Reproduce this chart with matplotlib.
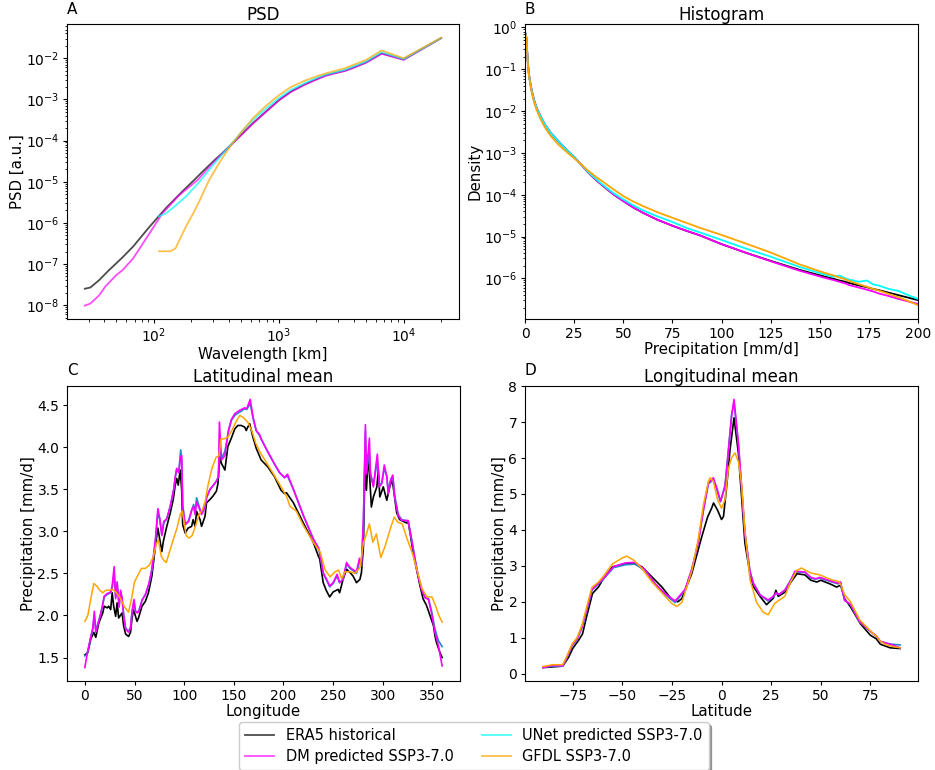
import numpy as np
import matplotlib
matplotlib.use("Agg")
import matplotlib.pyplot as plt

# ---------------- Panel A: PSD (wavelength km, log10 PSD) ----------------
psd_era5_wl = [28, 31, 36.5, 43, 53, 56, 68, 92, 125, 170, 210, 250, 315, 355, 425, 500, 625, 800,
               1000, 1250, 1600, 2000, 2360, 2800, 3400, 4000, 5000, 5714, 6667, 10000, 20000]
psd_era5_log = [-7.60, -7.57, -7.39, -7.17, -6.91, -6.84, -6.58, -6.10, -5.64, -5.23, -4.96, -4.73, -4.44,
                -4.30, -4.07, -3.86, -3.57, -3.28, -3.02, -2.81, -2.64, -2.51, -2.42, -2.36, -2.30, -2.22,
                -2.10, -2.00, -1.88, -2.03, -1.51]
psd_dm_wl = [28, 31, 36.5, 41, 50, 56, 68, 92, 117, 159, 224, 282, 355, 425, 500, 625, 800,
             1000, 1250, 1600, 2000, 2360, 2800, 3400, 4000, 5000, 5714, 6667, 10000, 20000]
psd_dm_log = [-8.01, -7.96, -7.76, -7.54, -7.27, -7.15, -6.87, -6.26, -5.77, -5.33, -4.96, -4.62, -4.31,
              -4.08, -3.87, -3.58, -3.29, -3.03, -2.82, -2.65, -2.52, -2.43, -2.37, -2.31, -2.23, -2.11,
              -2.01, -1.89, -2.04, -1.51]
psd_unet_wl = [110, 125, 140, 179, 229, 293, 374, 425, 500, 625, 800, 1000, 1250, 1600, 2000, 2360,
               3400, 5000, 6667, 10000, 20000]
psd_unet_log = [-5.84, -5.77, -5.65, -5.37, -5.02, -4.62, -4.25, -4.06, -3.80, -3.49, -3.21, -2.97,
                -2.77, -2.61, -2.48, -2.40, -2.28, -2.08, -1.85, -2.02, -1.51]
psd_gfdl_wl = [110, 121, 136, 149, 180, 210, 230, 277, 330, 380, 425, 500, 625, 800, 1000, 1250, 1600,
               2000, 2360, 3400, 5000, 6667, 10000, 20000]
psd_gfdl_log = [-6.69, -6.69, -6.69, -6.62, -6.10, -5.73, -5.49, -4.96, -4.57, -4.28, -4.07, -3.80,
                -3.45, -3.14, -2.90, -2.70, -2.55, -2.44, -2.37, -2.24, -2.04, -1.81, -2.00, -1.50]

# ---------------- Panel B: Histogram (mm/d, log10 density) ----------------
hist_x = [0.3, 0.7, 1.0, 1.5, 2.0, 2.7, 3.5, 4.5, 5.8, 7.5, 10, 13, 16.8, 21, 25.3, 29, 32, 36, 40, 45,
          50, 55, 60, 67, 75, 82, 89, 100, 112, 125, 140, 152, 157, 160, 163, 165, 170, 174, 177, 180,
          185, 190, 195, 200]
hist_era5_log = [-0.15, -0.25, -0.50, -0.88, -1.12, -1.33, -1.53, -1.72, -1.91, -2.09, -2.31, -2.52,
                 -2.71, -2.92, -3.11, -3.30, -3.46, -3.64, -3.80, -3.99, -4.15, -4.30, -4.43, -4.59,
                 -4.74, -4.86, -4.97, -5.18, -5.38, -5.58, -5.80, -5.95, -6.01, -6.05, -6.08, -6.11,
                 -6.17, -6.21, -6.25, -6.28, -6.34, -6.40, -6.46, -6.52]
hist_dm_log = [-0.15, -0.25, -0.50, -0.88, -1.12, -1.33, -1.53, -1.72, -1.91, -2.09, -2.31, -2.52,
               -2.71, -2.92, -3.11, -3.30, -3.46, -3.64, -3.80, -3.99, -4.15, -4.30, -4.43, -4.59,
               -4.74, -4.86, -4.97, -5.18, -5.38, -5.59, -5.82, -5.98, -6.04, -6.08, -6.12, -6.16,
               -6.22, -6.27, -6.31, -6.36, -6.42, -6.49, -6.55, -6.61]
hist_unet_log = [-0.15, -0.25, -0.50, -0.88, -1.12, -1.33, -1.53, -1.72, -1.91, -2.09, -2.31, -2.52,
                 -2.71, -2.92, -3.11, -3.30, -3.45, -3.62, -3.78, -3.96, -4.11, -4.25, -4.37, -4.51,
                 -4.65, -4.79, -4.90, -5.08, -5.28, -5.48, -5.73, -5.90, -5.96, -5.93, -6.00, -6.03,
                 -6.08, -6.05, -6.14, -6.17, -6.25, -6.30, -6.40, -6.49]
hist_gfdl_log = [-0.17, -0.27, -0.52, -0.90, -1.14, -1.36, -1.57, -1.77, -1.96, -2.15, -2.38, -2.59,
                 -2.79, -2.97, -3.14, -3.29, -3.42, -3.57, -3.70, -3.87, -4.03, -4.16, -4.27, -4.41,
                 -4.55, -4.67, -4.79, -4.96, -5.16, -5.38, -5.67, -5.86, -5.93, -5.98, -6.02, -6.06,
                 -6.14, -6.20, -6.25, -6.29, -6.37, -6.45, -6.54, -6.64]

# ---------------- Panel C: Latitudinal mean vs longitude ----------------
lon_era5 = [0, 3, 6, 9, 11, 14, 18, 19.5, 22.5, 24, 26, 27.5, 29, 31, 32.5, 34, 37.5, 39, 41, 44, 46,
            47.5, 49, 51, 52.5, 54, 57.5, 61, 64, 67.5, 71, 73.5, 75.5, 77.5, 79, 82.5, 86, 89, 91, 92.5,
            94, 96, 97.5, 98.5, 101, 104, 107.5, 109, 111, 112.5, 116, 117.5, 121, 122.5, 126, 129,
            132.5, 134, 136, 137.5, 141, 144, 147.5, 151, 154, 157.5, 161, 162.5, 164, 166, 169, 172.5,
            177.5, 184, 191, 197.5, 201, 203, 210, 220, 230, 235, 236.5, 240, 243, 246.5, 250, 255,
            256.5, 260, 263.5, 267, 270, 273.5, 277, 278.5, 280.5, 282, 283.5, 285.5, 287, 288.5, 290.5,
            294, 295.5, 297, 300.5, 304, 307, 309, 310.5, 314, 317, 320.5, 324, 325.5, 327.5, 330.5, 334,
            337.5, 340.5, 344, 347.5, 351, 352.5, 354, 357.5, 359.75]
lat_mean_era5 = [1.53, 1.56, 1.72, 1.80, 1.74, 1.91, 2.03, 2.11, 2.09, 2.11, 2.07, 2.27, 2.11, 1.99,
                 2.15, 1.97, 2.03, 1.88, 1.78, 1.75, 1.80, 1.97, 2.07, 1.99, 1.93, 1.97, 2.11, 2.17, 2.27,
                 2.47, 2.82, 3.04, 2.90, 2.76, 2.88, 3.06, 3.22, 3.38, 3.55, 3.63, 3.55, 3.73, 3.49, 3.08,
                 2.98, 3.04, 3.06, 3.14, 3.06, 3.24, 3.14, 3.06, 3.18, 3.34, 3.38, 3.42, 3.48, 3.57, 3.89,
                 3.81, 3.73, 4.01, 4.11, 4.22, 4.26, 4.26, 4.24, 4.20, 4.24, 4.28, 4.13, 3.99, 3.85, 3.77,
                 3.65, 3.49, 3.45, 3.46, 3.34, 3.10, 2.87, 2.71, 2.67, 2.39, 2.30, 2.22, 2.28, 2.31, 2.27,
                 2.43, 2.55, 2.51, 2.47, 2.39, 2.43, 2.51, 2.82, 3.80, 3.49, 3.92, 3.60, 3.29, 3.41, 3.53,
                 3.73, 3.41, 3.53, 3.37, 3.53, 3.61, 3.53, 3.22, 3.14, 3.12, 3.10, 3.12, 2.98, 2.75, 2.55,
                 2.35, 2.20, 2.12, 2.00, 1.88, 1.76, 1.68, 1.56, 1.50]

lon_pred = [0, 2, 6, 8, 9.5, 11, 14.5, 17.5, 19.5, 22.5, 26, 27.5, 29.5, 31, 32.5, 34.5, 36, 37.5, 39,
            41, 44, 46, 47.5, 49.5, 51, 53, 54.5, 57.5, 61, 64.5, 67.5, 71, 73.5, 75.5, 77.5, 79.5, 82.5,
            86, 89.5, 91, 92.5, 94.5, 96.5, 97.5, 98.5, 101, 104.5, 107.5, 109.5, 111, 112.5, 116, 117.5,
            121, 122.5, 126, 129.5, 132.5, 134.5, 135.5, 137.5, 141, 144.5, 147.5, 151, 154.5, 157.5, 161,
            163, 166.5, 169.5, 172.5, 176, 177.5, 184, 191, 196, 201, 204, 210, 220, 230, 235, 236.5, 240,
            245, 246.5, 250, 254, 256.5, 260, 263.5, 267, 270.5, 273.5, 276.5, 278.5, 280.5, 282.5, 283.5,
            286.5, 287.5, 290.5, 292, 294.5, 296.5, 299, 301.5, 304, 305.5, 308, 310, 312, 315.5, 319,
            322.5, 325.5, 329, 332.5, 335.5, 339, 342.5, 346, 349, 352.5, 356, 359.75]
lat_mean_dm = [1.38, 1.52, 1.75, 1.85, 2.05, 1.80, 1.95, 2.10, 2.23, 2.26, 2.28, 2.35, 2.58, 2.20, 2.40,
               2.10, 2.30, 2.20, 2.00, 1.84, 1.80, 1.85, 2.05, 2.19, 2.05, 2.03, 2.05, 2.18, 2.25, 2.38,
               2.55, 2.90, 3.27, 3.15, 2.95, 3.12, 3.15, 3.30, 3.50, 3.65, 3.75, 3.70, 3.89, 3.90, 3.30,
               3.08, 3.12, 3.25, 3.30, 3.20, 3.35, 3.25, 3.20, 3.28, 3.40, 3.50, 3.55, 3.60, 3.65, 4.30,
               3.85, 3.90, 4.20, 4.33, 4.40, 4.43, 4.45, 4.47, 4.46, 4.57, 4.35, 4.20, 4.15, 4.10, 3.95,
               3.80, 3.70, 3.64, 3.68, 3.50, 3.19, 2.91, 2.81, 2.75, 2.51, 2.39, 2.35, 2.39, 2.49, 2.39,
               2.43, 2.63, 2.57, 2.54, 2.52, 2.68, 2.60, 3.15, 4.27, 3.68, 4.11, 3.68, 3.53, 3.68, 3.92,
               3.53, 3.57, 3.79, 3.65, 3.45, 3.61, 3.67, 3.41, 3.19, 3.13, 3.13, 3.13, 2.90, 2.66, 2.47,
               2.31, 2.21, 2.19, 2.03, 1.80, 1.64, 1.40]
lat_mean_unet = [1.52, 1.53, 1.74, 1.84, 2.00, 1.82, 1.96, 2.10, 2.22, 2.25, 2.27, 2.33, 2.50, 2.22, 2.38,
                 2.12, 2.28, 2.20, 2.02, 1.85, 1.81, 1.86, 2.04, 2.15, 2.05, 2.04, 2.06, 2.18, 2.25, 2.37,
                 2.54, 2.88, 3.22, 3.14, 2.96, 3.10, 3.15, 3.30, 3.50, 3.64, 3.74, 3.70, 3.97, 3.85, 3.32,
                 3.08, 3.13, 3.25, 3.32, 3.22, 3.40, 3.26, 3.22, 3.30, 3.40, 3.50, 3.55, 3.60, 3.65, 4.05,
                 3.87, 3.95, 4.18, 4.32, 4.38, 4.41, 4.43, 4.46, 4.45, 4.52, 4.34, 4.20, 4.14, 4.10, 3.95,
                 3.80, 3.70, 3.64, 3.66, 3.50, 3.19, 2.91, 2.80, 2.74, 2.50, 2.38, 2.34, 2.38, 2.47, 2.39,
                 2.43, 2.61, 2.56, 2.53, 2.50, 2.64, 2.59, 3.10, 4.20, 3.70, 3.95, 3.70, 3.55, 3.66, 3.85,
                 3.55, 3.58, 3.75, 3.66, 3.48, 3.62, 3.66, 3.42, 3.20, 3.14, 3.13, 3.12, 2.91, 2.67, 2.48,
                 2.32, 2.22, 2.20, 2.06, 1.84, 1.70, 1.63]

lon_gfdl = [0, 3, 6, 9, 12, 15, 18, 21, 25, 28, 31, 35, 40, 44, 47, 50, 53, 57, 61, 65, 69, 72, 74, 77,
            80, 82, 85, 89, 93, 96, 98, 100, 102, 105, 108, 111, 115, 118, 121, 124, 128, 132, 135, 137,
            140, 144, 148, 152, 156, 160, 164, 168, 172, 176, 189.5, 203, 206.5, 213, 220, 230, 237, 242,
            247, 252, 255.5, 258.5, 262, 267, 272, 277, 280.5, 283, 286.5, 290, 293.5, 298, 302.5, 307.5,
            311.5, 315, 319.5, 324.5, 329.5, 334.5, 339.5, 344.5, 349.5, 353, 356.5, 359.75]
lat_mean_gfdl = [1.93, 2.00, 2.20, 2.38, 2.35, 2.30, 2.27, 2.30, 2.30, 2.31, 2.28, 2.22, 2.10, 2.04, 2.20,
                 2.40, 2.47, 2.56, 2.56, 2.60, 2.70, 2.85, 2.90, 2.70, 2.65, 2.63, 2.75, 2.90, 3.05, 3.20,
                 3.24, 3.10, 2.95, 2.92, 2.95, 3.05, 3.20, 3.25, 3.35, 3.55, 3.75, 3.88, 3.90, 4.10, 4.10,
                 4.12, 4.20, 4.30, 4.38, 4.35, 4.30, 4.20, 4.05, 3.95, 3.69, 3.42, 3.30, 3.24, 3.07, 2.87,
                 2.75, 2.54, 2.46, 2.52, 2.54, 2.44, 2.52, 2.52, 2.50, 2.57, 2.87, 2.95, 3.09, 2.87, 2.97,
                 2.69, 2.83, 3.03, 3.17, 3.11, 3.09, 2.91, 2.75, 2.54, 2.32, 2.22, 2.22, 2.12, 2.00, 1.92]

# ---------------- Panel D: Longitudinal mean vs latitude ----------------
lat_era5 = [-90, -85, -80, -77, -75, -72, -70, -68, -65, -62, -60, -55, -50, -45, -40, -35, -30, -25,
            -22, -20, -15, -10, -7, -5, -4, -2, 0, 1, 2.6, 4.3, 6.3, 8.5, 10.1, 11.8, 14.3, 16, 19.4, 22.7,
            26.1, 27.4, 28.6, 32, 35, 38, 42, 45, 48, 50, 55, 58, 60, 62, 65, 70, 75, 78, 80, 85, 90]
lon_mean_era5 = [0.17, 0.19, 0.21, 0.46, 0.70, 0.93, 1.11, 1.58, 2.23, 2.41, 2.60, 2.97, 3.04, 3.08,
                 2.97, 2.69, 2.41, 2.06, 2.00, 2.09, 2.78, 3.80, 4.36, 4.60, 4.75, 4.55, 4.29, 4.37, 5.21,
                 6.23, 7.12, 6.14, 4.93, 3.63, 2.80, 2.43, 2.15, 1.92, 2.10, 2.32, 2.15, 2.27, 2.55, 2.78,
                 2.75, 2.60, 2.55, 2.60, 2.49, 2.41, 2.46, 2.09, 1.86, 1.39, 1.07, 0.97, 0.82, 0.72, 0.70]

lat_pred = [-90, -85, -80, -77.8, -75.3, -72.8, -70.3, -67, -65.3, -62, -60, -54.4, -48.5, -43.5, -38.5,
            -33.4, -28.4, -23.4, -18.4, -15, -11.7, -9.1, -6.6, -4.1, -2, -0.5, 1.8, 3.4, 5.1, 6.3, 8.5,
            10.1, 11.8, 14.3, 16, 19.4, 23.5, 26, 27.5, 29, 32, 35, 37, 42, 45, 47.5, 49.5, 55, 58.7, 60,
            62, 65, 69.6, 76.3, 78, 80, 83, 86, 90]
lon_mean_dm = [0.17, 0.23, 0.22, 0.47, 0.80, 0.96, 1.30, 1.97, 2.34, 2.52, 2.62, 2.98, 3.08, 3.10, 2.89,
               2.50, 2.23, 2.02, 2.34, 2.90, 3.64, 4.56, 5.31, 5.45, 5.10, 4.80, 5.21, 6.14, 7.17, 7.63,
               6.42, 5.21, 3.91, 2.85, 2.52, 2.19, 2.05, 2.15, 2.25, 2.20, 2.33, 2.60, 2.85, 2.83, 2.68,
               2.64, 2.68, 2.58, 2.52, 2.55, 2.04, 1.93, 1.45, 1.12, 1.05, 0.90, 0.85, 0.80, 0.72]
lon_mean_unet = [0.18, 0.21, 0.21, 0.45, 0.78, 0.95, 1.28, 1.95, 2.32, 2.50, 2.60, 2.95, 3.03, 3.05, 2.86,
                 2.48, 2.20, 1.98, 2.32, 2.90, 3.66, 4.55, 5.28, 5.40, 5.05, 4.78, 5.25, 6.20, 7.20, 7.55,
                 6.40, 5.20, 3.92, 2.86, 2.52, 2.20, 2.02, 2.14, 2.23, 2.21, 2.33, 2.62, 2.83, 2.82, 2.66,
                 2.63, 2.66, 2.56, 2.50, 2.53, 2.05, 1.92, 1.44, 1.12, 1.05, 0.90, 0.85, 0.82, 0.80]

lat_gfdl = [-90, -85, -80, -77.8, -75.3, -72.8, -70.3, -67, -65.3, -62, -60, -55, -50, -47.7, -44, -40,
            -35, -30, -25, -22.5, -20, -15, -11.7, -9.1, -6.6, -5.7, -4.1, -2, 0, 1.8, 3.4, 5, 6.8, 8.5,
            10.1, 11.8, 14.3, 17.7, 21, 23.5, 26.9, 29.4, 31.9, 34.4, 37.8, 40.3, 45, 49.5, 55, 58.7, 60,
            62, 65, 69.6, 76.3, 78, 80, 83, 86, 90]
lon_mean_gfdl = [0.20, 0.25, 0.25, 0.50, 0.82, 1.00, 1.35, 2.05, 2.40, 2.55, 2.68, 3.05, 3.22, 3.27, 3.15,
                 2.92, 2.55, 2.25, 1.95, 1.87, 1.98, 2.85, 3.75, 4.70, 5.35, 5.45, 5.35, 4.85, 4.60, 4.85,
                 5.68, 6.00, 6.14, 5.90, 5.30, 4.00, 2.63, 1.98, 1.71, 1.64, 1.96, 2.06, 2.15, 2.50, 2.87,
                 2.94, 2.80, 2.75, 2.62, 2.57, 2.50, 2.20, 2.00, 1.50, 1.12, 1.05, 0.90, 0.80, 0.76, 0.72]

labels = ["ERA5 historical", "DM predicted SSP3-7.0", "UNet predicted SSP3-7.0", "GFDL SSP3-7.0"]
colors = ["black", "magenta", "cyan", "orange"]
unet_cd_color = "#1f88c8"

plt.rcParams['font.family'] = ['DejaVu Sans']
fig = plt.figure(figsize=(9.35, 7.7), dpi=100)

W, H = 935.0, 770.0
def rect(l, t, r, b):
    return [l / W, 1 - b / H, (r - l) / W, (b - t) / H]

axA = fig.add_axes(rect(67, 24.3, 459, 319))
axB = fig.add_axes(rect(525, 24.3, 918, 319))
axC = fig.add_axes(rect(67, 386, 460, 681))
axD = fig.add_axes(rect(525, 386, 918, 681))

TICK = 10
LAB = 10.8
TIT = 12

# Panel A
handles = []
for wl, lg, c in [(psd_era5_wl, psd_era5_log, colors[0]), (psd_dm_wl, psd_dm_log, colors[1]),
                  (psd_unet_wl, psd_unet_log, colors[2]), (psd_gfdl_wl, psd_gfdl_log, colors[3])]:
    h, = axA.plot(wl, 10 ** np.array(lg), color=c, lw=1.3, alpha=0.7)
    handles.append(h)
axA.set_xscale('log')
axA.set_yscale('log')
axA.set_xlabel('Wavelength [km]', fontsize=LAB, labelpad=1)
axA.set_ylabel('PSD [a.u.]', fontsize=LAB, labelpad=1)
axA.set_title('PSD', fontsize=TIT, pad=3)

# Panel B
for lg, c in [(hist_era5_log, colors[0]), (hist_dm_log, colors[1]),
              (hist_unet_log, colors[2]), (hist_gfdl_log, colors[3])]:
    axB.plot(hist_x, 10 ** np.array(lg), color=c, lw=1.3)
axB.set_yscale('log')
axB.set_xlim(0, 200)
axB.set_ylim(1.07e-7, 1.19)
axB.set_xlabel('Precipitation [mm/d]', fontsize=LAB, labelpad=1)
axB.set_ylabel('Density', fontsize=LAB, labelpad=1)
axB.set_title('Histogram', fontsize=TIT, pad=3)

# Panel C
axC.plot(lon_era5, lat_mean_era5, color='black', lw=1.2)
axC.plot(lon_pred, lat_mean_unet, color=unet_cd_color, lw=1.2)
axC.plot(lon_pred, lat_mean_dm, color='magenta', lw=1.2)
axC.plot(lon_gfdl, lat_mean_gfdl, color='orange', lw=1.1)
axC.set_xticks([0, 50, 100, 150, 200, 250, 300, 350])
axC.set_yticks([1.5, 2.0, 2.5, 3.0, 3.5, 4.0, 4.5])
axC.set_xlabel('Longitude', fontsize=LAB, labelpad=1)
axC.set_ylabel('Precipitation [mm/d]', fontsize=LAB, labelpad=1)
axC.set_title('Latitudinal mean', fontsize=TIT, pad=3)

# Panel D
axD.plot(lat_era5, lon_mean_era5, color='black', lw=1.2)
axD.plot(lat_pred, lon_mean_unet, color=unet_cd_color, lw=1.2)
axD.plot(lat_pred, lon_mean_dm, color='magenta', lw=1.2)
axD.plot(lat_gfdl, lon_mean_gfdl, color='orange', lw=1.1)
axD.set_xticks([-75, -50, -25, 0, 25, 50, 75])
axD.set_yticks(range(0, 9))
axD.set_xlabel('Latitude', fontsize=LAB, labelpad=1)
axD.set_ylabel('Precipitation [mm/d]', fontsize=LAB, labelpad=1)
axD.set_title('Longitudinal mean', fontsize=TIT, pad=3)

for ax, letter in zip([axA, axB, axC, axD], "ABCD"):
    ax.tick_params(which='major', labelsize=TICK, length=3, pad=2.5)
    ax.tick_params(which='minor', length=1.8)
    ax.text(0.0, 1.026, letter, transform=ax.transAxes, fontsize=11, ha='left', va='bottom')

fig.legend(handles, labels, loc='lower center', ncol=2, bbox_to_anchor=(0.507, -0.009),
           fontsize=10.5, shadow=True, fancybox=True, framealpha=1, columnspacing=1.9,
           labelspacing=0.4)

fig.savefig('out.png', dpi=100)
